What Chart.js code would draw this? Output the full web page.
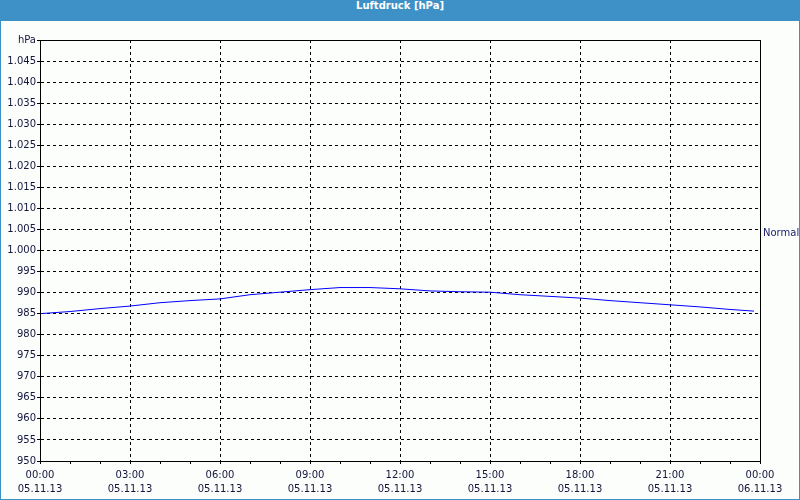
<!DOCTYPE html>
<html>
<head>
<meta charset="utf-8">
<script src="https://cdn.jsdelivr.net/npm/chart.js@4/dist/chart.umd.min.js"></script>
<style>
  html, body { margin: 0; padding: 0; background: #fcfefc; }
  #frame {
    width: 800px; height: 500px; box-sizing: border-box;
    border: 1px solid #3d91c7; border-top: none; background: #fcfefc;
  }
  #head {
    height: 21px; line-height: 21px; margin: 0 -1px; background: #3d91c7;
    color: #fff; font: bold 10px "DejaVu Sans", sans-serif; text-align: center;
  }
  #box { position: relative; width: 798px; height: 478px; }
</style>
</head>
<body>
<div id="frame">
  <div id="head">Luftdruck [hPa]</div>
  <div id="box"><canvas id="c"></canvas></div>
</div>
<script>
// hours since 05.11.13 00:00
const hours = [0, 1, 2, 3, 4, 5, 6, 7, 8, 9, 10, 11, 12, 13, 14, 15, 16, 17, 18, 19, 20, 21, 22, 23, 23.8];
const pressure = [985.0, 985.5, 986.2, 986.8, 987.6, 988.1, 988.5, 989.5, 990.1, 990.7, 991.2, 991.2, 990.9,
                  990.4, 990.2, 990.1, 989.5, 989.1, 988.7, 988.1, 987.6, 987.1, 986.6, 986.0, 985.6];
const seriesName = 'Normal';
const yUnit = 'hPa';
const dates = ['05.11.13', '06.11.13'];

const ink = '#14143c';
const tickFont = { family: '"DejaVu Sans", sans-serif', size: 10, lineHeight: 1.4 };

function pad(n) { return (n < 10 ? '0' : '') + n; }
function fmtHpa(v) {
  if (v >= 1000) return '1.' + String(v - 1000).padStart(3, '0');
  return String(v);
}

const framePlugin = {
  id: 'frame',
  afterDatasetsDraw(chart) {
    const a = chart.chartArea, ctx = chart.ctx;
    ctx.save();
    ctx.strokeStyle = '#000';
    ctx.lineWidth = 1;
    ctx.strokeRect(Math.round(a.left) + 0.5, Math.round(a.top) + 0.5,
                   Math.round(a.right - a.left), Math.round(a.bottom - a.top));
    // series label on the right
    const y = chart.scales.y.getPixelForValue(1005);
    ctx.fillStyle = '#1a1a70';
    ctx.font = '10px "DejaVu Sans", sans-serif';
    ctx.textBaseline = 'middle';
    ctx.fillText(seriesName, a.right + 3, y + 4);
    ctx.restore();
  }
};

new Chart(document.getElementById('c'), {
  type: 'line',
  data: {
    datasets: [{
      label: seriesName,
      data: hours.map((h, i) => ({ x: h, y: pressure[i] })),
      borderColor: '#0000ff',
      borderWidth: 1,
      pointRadius: 0,
      tension: 0
    }]
  },
  options: {
    responsive: true,
    maintainAspectRatio: false,
    animation: false,
    layout: { padding: { left: 0, right: 39, top: 19, bottom: 0 } },
    plugins: { legend: { display: false }, tooltip: { enabled: false } },
    scales: {
      x: {
        type: 'linear', min: 0, max: 24,
        afterFit(s) { s.height = 38; },
        ticks: {
          stepSize: 1, autoSkip: false, maxRotation: 0, padding: 4,
          color: ink, font: tickFont,
          callback(v) {
            if (v % 3 !== 0) return '';
            return [pad(v % 24) + ':00', dates[v < 24 ? 0 : 1]];
          }
        },
        grid: {
          color: c => (c.tick && c.tick.value % 3 === 0 && c.tick.value > 0 && c.tick.value < 24) ? '#000' : 'rgba(0,0,0,0)',
          tickColor: '#000', tickLength: 3, tickBorderDash: []
        },
        border: { display: true, color: '#000', dash: [3, 3] }
      },
      y: {
        min: 950, max: 1050,
        afterFit(s) { s.width = 39; },
        ticks: {
          stepSize: 5, padding: 1, color: ink, font: tickFont,
          callback(v) { return v === 1050 ? yUnit : fmtHpa(v); }
        },
        grid: {
          color: c => (c.tick && c.tick.value > 950 && c.tick.value < 1050) ? '#000' : 'rgba(0,0,0,0)',
          tickColor: '#000', tickLength: 3, tickBorderDash: []
        },
        border: { display: true, color: '#000', dash: [3, 3] }
      }
    }
  },
  plugins: [framePlugin]
});
</script>
</body>
</html>
